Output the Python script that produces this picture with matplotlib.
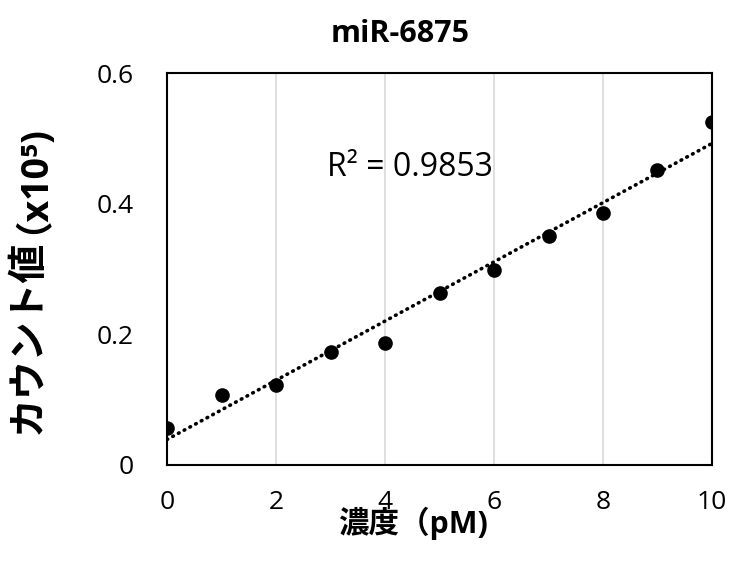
import numpy as np
import matplotlib
matplotlib.use('Agg')
import matplotlib.pyplot as plt

plt.rcParams['font.family'] = ['Open Sans', 'Noto Sans CJK JP', 'DejaVu Sans']

# datos
conc = [0, 1, 2, 3, 4, 5, 6, 7, 8, 9, 10]
cuenta = [0.056, 0.107, 0.122, 0.173, 0.187, 0.264, 0.299, 0.351, 0.386, 0.452, 0.525]
r2_texto = 'R² = 0.9853'
titulo = 'miR-6875'

fig = plt.figure(figsize=(7.31, 5.62), dpi=100)
ax = fig.add_axes([0.2285, 0.1726, 0.7455, 0.6975])

# linea de tendencia
m, b = np.polyfit(conc, cuenta, 1)
xs = np.array([0, 10])
ax.plot(xs, m * xs + b, color='black', linestyle=(0, (0.2, 1.6)), linewidth=2.6,
        dash_capstyle='round', zorder=2)

ax.plot(conc, cuenta, 'o', color='black', markersize=9.5, zorder=3)

ax.set_xlim(0, 10)
ax.set_ylim(0, 0.6)
ax.set_xticks([0, 2, 4, 6, 8, 10])
ax.set_yticks([0, 0.2, 0.4, 0.6])
ax.set_yticklabels(['0', '0.2', '0.4', '0.6'])
ax.tick_params(length=0, labelsize=19)
ax.tick_params(axis='y', pad=24)
ax.tick_params(axis='x', pad=18)
ax.grid(axis='x', color='#d9d9d9', linewidth=1.2)
ax.set_axisbelow(True)
for s in ax.spines.values():
    s.set_color('black')
    s.set_linewidth(1.5)

ax.text(2.94, 0.455, r2_texto, fontsize=23, va='center', ha='left')

# titulo y etiquetas (centradas un poco a la izquierda del eje, como en Excel)
fig.text(0.548, 0.94, titulo, fontsize=22, fontweight='bold', ha='center', va='center')
fig.text(0.565, 0.068, '濃度（pM)', fontsize=22, fontweight='bold', ha='center', va='center')

fig.text(0.038, 0.40, 'カウント値', rotation=90, fontsize=28, fontweight='bold',
         ha='center', va='center', family=['Noto Sans CJK JP', 'DejaVu Sans'])
fig.text(0.019, 0.583, '（x10⁵)', rotation=90, fontsize=27, fontweight='bold',
         ha='center', va='bottom')

fig.savefig('out.png', dpi=100)
